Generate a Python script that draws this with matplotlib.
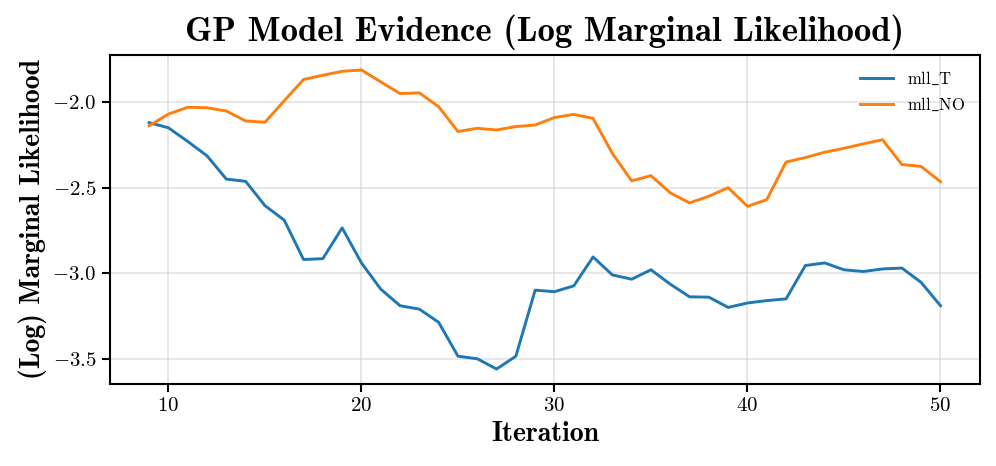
import numpy as np
import matplotlib
matplotlib.use("Agg")
import matplotlib.pyplot as plt
from matplotlib.ticker import MultipleLocator

iteration = list(range(9, 51))
mll_T = [-2.12, -2.15, -2.23, -2.314, -2.45, -2.463, -2.605, -2.69, -2.92, -2.915,
         -2.735, -2.94, -3.093, -3.19, -3.21, -3.287, -3.485, -3.50, -3.56, -3.485,
         -3.099, -3.108, -3.074, -2.905, -3.01, -3.035, -2.98, -3.064, -3.138, -3.14,
         -3.20, -3.174, -3.16, -3.15, -2.955, -2.94, -2.98, -2.99, -2.975, -2.97,
         -3.054, -3.19]
mll_NO = [-2.138, -2.07, -2.03, -2.033, -2.052, -2.11, -2.118, -1.992, -1.868, -1.843,
          -1.82, -1.812, -1.882, -1.95, -1.946, -2.027, -2.172, -2.153, -2.163, -2.143,
          -2.134, -2.09, -2.072, -2.095, -2.30, -2.46, -2.43, -2.53, -2.589, -2.55,
          -2.50, -2.609, -2.57, -2.35, -2.324, -2.293, -2.27, -2.244, -2.22, -2.365,
          -2.376, -2.465]

plt.rcParams['font.family'] = ['cmr10', 'DejaVu Serif']
plt.rcParams['mathtext.fontset'] = 'cm'
plt.rcParams['axes.formatter.use_mathtext'] = True

fig, ax = plt.subplots(figsize=(9.96, 4.66), dpi=100)
fig.subplots_adjust(left=0.11, right=0.984, top=0.882, bottom=0.176)

ax.plot(iteration, mll_T, color='#1f77b4', lw=2.1, label=r'mll$\_$T')
ax.plot(iteration, mll_NO, color='#ff7f0e', lw=2.1, label=r'mll$\_$NO')

ax.yaxis.set_major_locator(MultipleLocator(0.5))
ax.grid(True, color='#cccccc', alpha=0.5, lw=1.3)
for s in ax.spines.values():
    s.set_linewidth(1.5)
ax.tick_params(labelsize=15, width=1.5, length=6)

bold = ['cmb10', 'DejaVu Serif']
ax.set_title('GP Model Evidence (Log Marginal Likelihood)', family=bold, fontsize=25, pad=10)
ax.set_xlabel('Iteration', family=bold, fontsize=20)
ax.set_ylabel('(Log) Marginal Likelihood', family=bold, fontsize=20)
ax.legend(frameon=False, fontsize=12, loc='upper right')

fig.savefig('out.png')
